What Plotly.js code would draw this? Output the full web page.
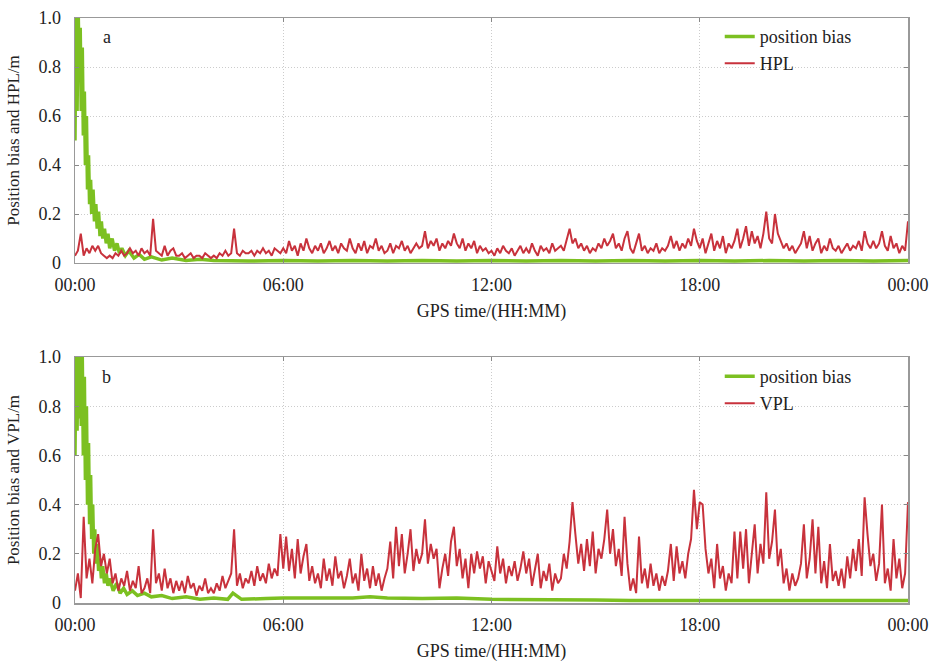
<!DOCTYPE html>
<html>
<head>
<meta charset="utf-8">
<script src="https://cdn.plot.ly/plotly-3.0.1.min.js"></script>
<style>html,body{margin:0;padding:0;background:#fff;}#chart{width:930px;height:664px;}</style>
</head>
<body>
<div id="chart"></div>
<script>
// ---- Data ----
// Tick labels
const timeTickVals = [0, 6, 12, 18, 24];
const timeTickText = ["00:00", "06:00", "12:00", "18:00", "00:00"];
const yTickVals = [0, 0.2, 0.4, 0.6, 0.8, 1.0];
const yTickText = ["0", "0.2", "0.4", "0.6", "0.8", "1.0"];

// Sampling of the protection-level series: start 00:00, every 5 minutes (hours)
const plStart = 0;
const plStep = 5 / 60;

// Panel a: horizontal position bias (hours, metres)
const biasHTime = [0,0.03,0.06,0.09,0.12,0.15,0.18,0.21,0.24,0.27,0.30,0.33,0.36,0.39,0.42,0.45,0.48,0.52,0.56,0.60,0.64,0.68,0.72,0.76,0.80,0.85,0.90,0.95,1.00,1.07,1.14,1.21,1.28,1.35,1.45,1.55,1.7,1.85,2.0,2.2,2.5,2.8,3.2,3.6,4.0,5,6,7,8,9,10,11,12,13,14,15,16,17,18,19,20,21,22,23,24];
const biasH = [0.50,1.10,0.62,1.05,0.78,0.96,0.62,0.88,0.52,0.70,0.40,0.60,0.30,0.44,0.24,0.34,0.20,0.30,0.17,0.24,0.14,0.21,0.11,0.17,0.10,0.14,0.08,0.12,0.06,0.10,0.05,0.08,0.04,0.06,0.03,0.05,0.02,0.035,0.015,0.025,0.012,0.02,0.01,0.015,0.01,0.008,0.01,0.008,0.01,0.008,0.01,0.008,0.01,0.008,0.01,0.008,0.01,0.008,0.01,0.008,0.01,0.008,0.01,0.008,0.01];

// Panel a: HPL (metres), one value every 5 minutes
const hpl = [
 0.03,0.05,0.12,0.03,0.06,0.04,0.07,0.05,0.07,0.04,0.03,0.02,
 0.03,0.02,0.04,0.03,0.05,0.03,0.04,0.06,0.04,0.05,0.03,0.06,
 0.04,0.05,0.03,0.18,0.05,0.04,0.03,0.07,0.03,0.05,0.06,0.03,
 0.03,0.04,0.02,0.03,0.04,0.02,0.03,0.03,0.02,0.04,0.03,0.02,
 0.03,0.02,0.04,0.03,0.05,0.03,0.04,0.14,0.04,0.03,0.05,0.04,
 0.04,0.05,0.03,0.05,0.04,0.06,0.04,0.05,0.03,0.06,0.05,0.04,
 0.06,0.04,0.09,0.05,0.07,0.03,0.08,0.05,0.10,0.06,0.04,0.07,
 0.05,0.08,0.04,0.06,0.09,0.05,0.07,0.04,0.08,0.06,0.05,0.10,
 0.06,0.04,0.08,0.05,0.09,0.04,0.07,0.06,0.10,0.05,0.07,0.04,
 0.05,0.08,0.04,0.07,0.06,0.09,0.05,0.07,0.04,0.06,0.08,0.06,
 0.07,0.13,0.06,0.09,0.07,0.10,0.05,0.08,0.06,0.09,0.07,0.12,
 0.08,0.06,0.10,0.05,0.08,0.06,0.09,0.04,0.07,0.05,0.06,0.04,
 0.05,0.03,0.06,0.04,0.07,0.05,0.04,0.06,0.03,0.05,0.07,0.04,
 0.06,0.04,0.08,0.05,0.03,0.07,0.05,0.06,0.04,0.08,0.05,0.06,
 0.07,0.05,0.09,0.14,0.08,0.10,0.06,0.08,0.05,0.07,0.04,0.06,
 0.05,0.08,0.06,0.10,0.07,0.09,0.12,0.06,0.08,0.05,0.10,0.13,
 0.06,0.04,0.08,0.12,0.05,0.07,0.04,0.06,0.05,0.08,0.04,0.06,
 0.05,0.07,0.11,0.06,0.09,0.05,0.08,0.06,0.10,0.07,0.14,0.09,
 0.06,0.10,0.04,0.08,0.12,0.05,0.09,0.06,0.11,0.04,0.08,0.06,
 0.09,0.14,0.06,0.10,0.15,0.07,0.13,0.08,0.11,0.06,0.12,0.21,
 0.10,0.08,0.20,0.12,0.09,0.06,0.08,0.05,0.07,0.04,0.06,0.08,
 0.13,0.06,0.11,0.05,0.08,0.10,0.04,0.07,0.05,0.10,0.06,0.05,
 0.07,0.04,0.06,0.08,0.05,0.07,0.06,0.09,0.05,0.13,0.08,0.06,
 0.09,0.06,0.08,0.13,0.07,0.05,0.11,0.06,0.08,0.04,0.07,0.05,
 0.17
];

// Panel b: vertical position bias (hours, metres)
const biasVTime = [0,0.03,0.06,0.09,0.12,0.15,0.18,0.21,0.24,0.27,0.30,0.33,0.36,0.39,0.42,0.45,0.48,0.51,0.54,0.57,0.60,0.64,0.68,0.72,0.76,0.80,0.85,0.90,0.95,1.00,1.1,1.2,1.3,1.4,1.5,1.65,1.8,2.0,2.2,2.5,2.8,3.2,3.6,4.0,4.4,4.55,4.65,4.8,5.5,6,7,8,8.5,9,10,11,12,13,14,15,16,17,18,19,20,21,22,23,24];
const biasV = [0.60,1.10,0.70,1.08,0.75,1.05,0.72,1.00,0.60,0.92,0.50,0.80,0.40,0.65,0.32,0.52,0.26,0.40,0.20,0.30,0.16,0.24,0.13,0.18,0.10,0.15,0.08,0.12,0.07,0.10,0.05,0.08,0.04,0.06,0.035,0.05,0.03,0.04,0.025,0.03,0.018,0.025,0.015,0.02,0.015,0.04,0.03,0.015,0.018,0.02,0.02,0.02,0.025,0.02,0.018,0.02,0.015,0.015,0.012,0.012,0.01,0.01,0.01,0.008,0.01,0.01,0.008,0.01,0.01];

// Panel b: VPL (metres), one value every 5 minutes
const vpl = [
 0.05,0.12,0.02,0.35,0.10,0.18,0.08,0.22,0.28,0.15,0.20,0.12,
 0.18,0.08,0.12,0.05,0.10,0.07,0.13,0.05,0.09,0.06,0.15,0.04,
 0.06,0.10,0.04,0.30,0.08,0.12,0.05,0.14,0.06,0.10,0.04,0.09,
 0.05,0.09,0.04,0.11,0.06,0.08,0.03,0.07,0.05,0.10,0.04,0.06,
 0.04,0.08,0.05,0.11,0.06,0.09,0.12,0.30,0.07,0.12,0.06,0.10,
 0.08,0.13,0.07,0.15,0.09,0.12,0.08,0.16,0.10,0.14,0.11,0.28,
 0.14,0.27,0.13,0.22,0.10,0.26,0.12,0.19,0.24,0.09,0.15,0.08,
 0.12,0.06,0.18,0.09,0.14,0.07,0.19,0.10,0.13,0.06,0.11,0.18,
 0.08,0.12,0.05,0.20,0.09,0.14,0.06,0.15,0.07,0.12,0.05,0.10,
 0.14,0.25,0.10,0.31,0.15,0.28,0.12,0.20,0.30,0.13,0.22,0.16,
 0.20,0.34,0.16,0.24,0.18,0.22,0.06,0.14,0.20,0.11,0.25,0.31,
 0.15,0.22,0.10,0.18,0.06,0.20,0.12,0.21,0.14,0.19,0.08,0.17,
 0.13,0.09,0.23,0.12,0.18,0.08,0.15,0.11,0.17,0.09,0.14,0.21,
 0.12,0.18,0.07,0.14,0.20,0.06,0.13,0.09,0.16,0.05,0.12,0.08,
 0.10,0.20,0.14,0.25,0.41,0.28,0.16,0.24,0.13,0.26,0.15,0.29,
 0.12,0.22,0.18,0.26,0.38,0.20,0.30,0.15,0.22,0.11,0.35,0.16,
 0.05,0.10,0.04,0.27,0.08,0.14,0.06,0.16,0.07,0.12,0.05,0.11,
 0.07,0.13,0.24,0.09,0.23,0.12,0.17,0.10,0.20,0.26,0.46,0.30,
 0.41,0.40,0.22,0.12,0.18,0.06,0.24,0.10,0.15,0.05,0.12,0.08,
 0.29,0.10,0.29,0.14,0.30,0.08,0.20,0.32,0.12,0.24,0.16,0.45,
 0.18,0.25,0.38,0.15,0.22,0.08,0.14,0.05,0.12,0.07,0.10,0.16,
 0.32,0.10,0.18,0.34,0.12,0.31,0.08,0.17,0.06,0.24,0.09,0.13,
 0.07,0.14,0.06,0.19,0.10,0.22,0.13,0.26,0.11,0.43,0.28,0.15,
 0.20,0.09,0.16,0.40,0.08,0.14,0.05,0.26,0.10,0.18,0.06,0.12,
 0.41
];

// ---- Styling ----
const FONT = "'Liberation Serif', 'Times New Roman', serif";
const GREEN = "#7cc021";
const RED = "#c8323c";
const TXT = {family: FONT, size: 18, color: "#222"};
const YTITLE = {family: FONT, size: 17, color: "#222"};

const traces = [
  {x: biasHTime, y: biasH, type: "scatter", mode: "lines", name: "position bias",
   line: {color: GREEN, width: 3.5}, xaxis: "x", yaxis: "y", legend: "legend"},
  {x0: plStart, dx: plStep, y: hpl, type: "scatter", mode: "lines", name: "HPL",
   line: {color: RED, width: 2}, xaxis: "x", yaxis: "y", legend: "legend2"},
  {x: biasVTime, y: biasV, type: "scatter", mode: "lines", name: "position bias",
   line: {color: GREEN, width: 3.5}, xaxis: "x2", yaxis: "y2", legend: "legend3"},
  {x0: plStart, dx: plStep, y: vpl, type: "scatter", mode: "lines", name: "VPL",
   line: {color: RED, width: 2}, xaxis: "x2", yaxis: "y2", legend: "legend4"}
];

function xAxis(anchor) {
  return {
    anchor: anchor, domain: [0, 1], range: [0, 24],
    tickvals: timeTickVals, ticktext: timeTickText,
    ticks: "inside", ticklen: 4, tickcolor: "#888",
    showline: true, linecolor: "#999", linewidth: 1.5, mirror: "ticks",
    showgrid: true, gridcolor: "#cccccc", griddash: "1px,2px", gridwidth: 1,
    zeroline: false, tickfont: TXT,
    ticklabelstandoff: 5,
    title: {text: "GPS time/(HH:MM)", font: TXT, standoff: 10}
  };
}
function yAxis(anchor, domain, label) {
  return {
    anchor: anchor, domain: domain, range: [0, 1],
    tickvals: yTickVals, ticktext: yTickText,
    ticks: "inside", ticklen: 4, tickcolor: "#888",
    showline: true, linecolor: "#999", linewidth: 1.5, mirror: "ticks",
    showgrid: true, gridcolor: "#cccccc", griddash: "1px,2px", gridwidth: 1,
    zeroline: false, tickfont: TXT,
    ticklabelstandoff: 9,
    title: {text: label, font: YTITLE, standoff: 14}
  };
}

function legendAt(xp, yp) {
  return {x: xp, y: yp, xanchor: "left", yanchor: "middle", bgcolor: "rgba(0,0,0,0)",
          font: TXT, itemwidth: 30, borderwidth: 0, tracegroupgap: 0};
}

const layout = {
  width: 930, height: 664,
  margin: {l: 75, r: 22, t: 18, b: 61},
  paper_bgcolor: "#fff", plot_bgcolor: "#fff",
  font: TXT,
  showlegend: true,
  xaxis: xAxis("y"),
  yaxis: yAxis("x", [0.5812, 1], "Position bias and HPL/m"),
  xaxis2: xAxis("y2"),
  yaxis2: yAxis("x2", [0, 0.4205], "Position bias and VPL/m"),
  legend: legendAt(0.774, 0.968),
  legend2: legendAt(0.774, 0.922),
  legend3: legendAt(0.774, 0.387),
  legend4: legendAt(0.774, 0.341),
  annotations: [
    {text: "a", xref: "paper", yref: "paper", x: 0.0384, y: 0.968, showarrow: false,
     xanchor: "center", yanchor: "middle", font: {family: FONT, size: 18, color: "#222"}},
    {text: "b", xref: "paper", yref: "paper", x: 0.0384, y: 0.387, showarrow: false,
     xanchor: "center", yanchor: "middle", font: {family: FONT, size: 18, color: "#222"}}
  ]
};

Plotly.newPlot("chart", traces, layout, {displayModeBar: false, staticPlot: true});
</script>
</body>
</html>
